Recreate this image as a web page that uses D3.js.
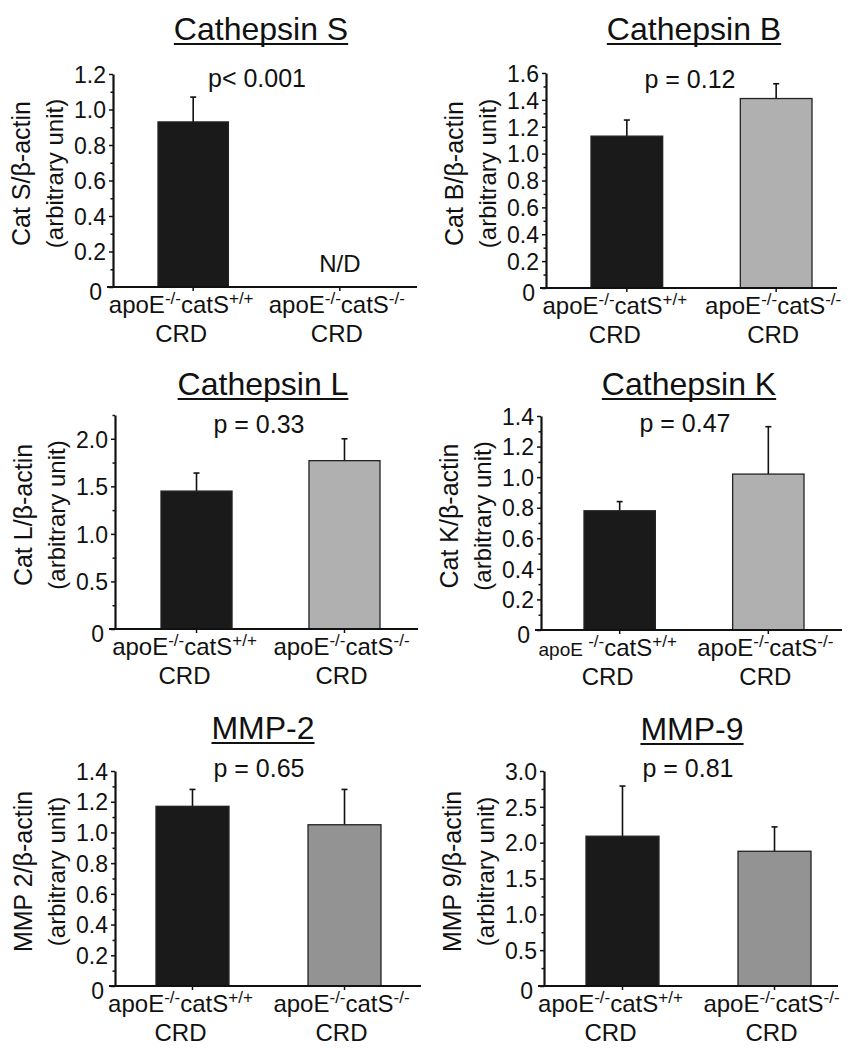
<!DOCTYPE html>
<html>
<head>
<meta charset="utf-8">
<script src="https://cdn.jsdelivr.net/npm/d3@7"></script>
<style>
  html, body { margin: 0; padding: 0; background: #fff; }
  svg { display: block; font-family: Arial, "Liberation Sans", Helvetica, sans-serif; }
</style>
</head>
<body>
<svg id="chart" width="851" height="1050"></svg>
<script>
// ---------------- data ----------------
const groups = ["apoE-/-catS+/+", "apoE-/-catS-/-"];
const groupSubLabel = "CRD";
const titles = ["Cathepsin S", "Cathepsin B", "Cathepsin L", "Cathepsin K", "MMP-2", "MMP-9"];
const yLabels = ["Cat S/β-actin", "Cat B/β-actin", "Cat L/β-actin", "Cat K/β-actin", "MMP 2/β-actin", "MMP 9/β-actin"];
const yLabelSub = "(arbitrary unit)";
const pTexts = ["p< 0.001", "p = 0.12", "p = 0.33", "p = 0.47", "p = 0.65", "p = 0.81"];
const wildTypeMeans = [0.93, 1.13, 1.45, 0.78, 1.17, 2.09];
const wildTypeSEM   = [0.14, 0.12, 0.19, 0.06, 0.11, 0.70];
const knockoutMeans = [null, 1.41, 1.77, 1.02, 1.05, 1.88];
const knockoutSEM   = [null, 0.11, 0.23, 0.31, 0.23, 0.34];
const notDetectedText = "N/D";
const yMax       = [1.2, 1.6, 2.25, 1.4, 1.4, 3.0];
const yMajorStep = [0.2, 0.2, 0.5, 0.2, 0.2, 0.5];
const yMinorStep = [0.1, 0.1, 0.25, 0.1, 0.1, 0.25];

// ---------------- layout (positions / styles) ----------------
const layout = [
  {ax:113, x1:417, yt:74,  yb:287, band:[158,375], titleY:40,  pY:87,  knockoutFill:"#b0b0b0"},
  {ax:546, x1:837, yt:73,  yb:288, band:[591,812], titleY:40,  pY:88,  knockoutFill:"#b0b0b0"},
  {ax:115, x1:418, yt:415, yb:629, band:[161,380], titleY:395, pY:433, knockoutFill:"#b0b0b0"},
  {ax:541, x1:842, yt:416, yb:630, band:[584,804], titleY:395, pY:432, knockoutFill:"#b0b0b0", smallApoE:true},
  {ax:115, x1:421, yt:771, yb:986, band:[156,381], titleY:739, pY:777, knockoutFill:"#939393"},
  {ax:544, x1:838, yt:771, yb:986, band:[586,811], titleY:740, pY:777, knockoutFill:"#939393"}
];
const wildFill = "#1a1a1a";
const ink = "#111";

const svg = d3.select("#chart");
svg.append("rect").attr("width", 851).attr("height", 1050).attr("fill", "#fff");

function fmtTick(v) {
  if (Math.abs(v) < 1e-9) return "0";
  return d3.format(".1f")(v);
}

titles.forEach((title, i) => {
  const L = layout[i];
  const g = svg.append("g");

  const y = d3.scaleLinear().domain([0, yMax[i]]).range([L.yb, L.yt]);
  const x = d3.scaleBand().domain(groups).range(L.band).paddingInner(0.52).paddingOuter(0);

  // title with underline
  const tcx = L.ax + 148;
  const t = g.append("text").attr("x", tcx).attr("y", L.titleY)
    .attr("text-anchor", "middle").attr("font-size", 32).attr("fill", ink).text(title);
  const tw = t.node().getComputedTextLength();
  g.append("line").attr("x1", tcx - tw / 2).attr("x2", tcx + tw / 2)
    .attr("y1", L.titleY + 4).attr("y2", L.titleY + 4)
    .attr("stroke", ink).attr("stroke-width", 2);

  // p value
  g.append("text").attr("x", L.ax + 144).attr("y", L.pY)
    .attr("text-anchor", "middle").attr("font-size", 25).attr("fill", ink).text(pTexts[i]);

  // y axis minor ticks
  const eps = 1e-9;
  const majors = d3.range(0, yMax[i] + eps, yMajorStep[i]);
  const minors = d3.range(0, yMax[i] + eps, yMinorStep[i])
    .filter(v => !majors.some(m => Math.abs(m - v) < 1e-6));
  const minorAxis = g.append("g").attr("transform", `translate(${L.ax},0)`)
    .call(d3.axisLeft(y).tickValues(minors).tickSize(2.5).tickFormat(""));
  minorAxis.select(".domain").remove();
  minorAxis.selectAll("line").attr("stroke", ink).attr("stroke-width", 1.5);

  // y axis major
  const yAxis = g.append("g").attr("transform", `translate(${L.ax},0)`)
    .call(d3.axisLeft(y).tickValues(majors).tickSize(4).tickSizeOuter(0)
      .tickPadding(3).tickFormat(fmtTick));
  yAxis.attr("font-size", null).attr("font-family", null);
  yAxis.select(".domain").attr("stroke", ink).attr("stroke-width", 2.2);
  yAxis.selectAll(".tick line").attr("stroke", ink).attr("stroke-width", 1.5);
  yAxis.selectAll(".tick text").attr("font-size", 23).attr("fill", ink)
    .attr("dy", "0.36em");
  yAxis.selectAll(".tick").filter(d => d === 0).select("text")
    .attr("dx", -4).attr("dy", "0.55em");

  // y axis label
  const ymid = (L.yt + L.yb) / 2 - 7;
  g.append("text").attr("transform", `translate(${L.ax - 92},${ymid}) rotate(-90)`)
    .attr("text-anchor", "middle").attr("dy", "0.35em").attr("font-size", 25).attr("fill", ink)
    .text(yLabels[i]);
  g.append("text").attr("transform", `translate(${L.ax - 58},${ymid}) rotate(-90)`)
    .attr("text-anchor", "middle").attr("dy", "0.35em").attr("font-size", 24).attr("fill", ink)
    .text(yLabelSub);

  // bars
  const rows = groups.map((grp, k) => ({
    grp,
    mean: k === 0 ? wildTypeMeans[i] : knockoutMeans[i],
    sem:  k === 0 ? wildTypeSEM[i] : knockoutSEM[i],
    fill: k === 0 ? wildFill : L.knockoutFill
  }));
  const present = rows.filter(r => r.mean != null);

  // error bars (upper only)
  present.forEach(r => {
    const cx = x(r.grp) + x.bandwidth() / 2;
    g.append("line").attr("x1", cx).attr("x2", cx)
      .attr("y1", y(r.mean)).attr("y2", y(r.mean + r.sem))
      .attr("stroke", ink).attr("stroke-width", 1.6);
    g.append("line").attr("x1", cx - 3).attr("x2", cx + 3)
      .attr("y1", y(r.mean + r.sem)).attr("y2", y(r.mean + r.sem))
      .attr("stroke", ink).attr("stroke-width", 1.6);
  });

  g.selectAll("rect.bar").data(present).join("rect").attr("class", "bar")
    .attr("x", r => x(r.grp)).attr("width", x.bandwidth())
    .attr("y", r => y(r.mean)).attr("height", r => L.yb - y(r.mean))
    .attr("fill", r => r.fill).attr("stroke", "#222").attr("stroke-width", 1.3);

  // N/D text
  rows.filter(r => r.mean == null).forEach(r => {
    g.append("text").attr("x", x(r.grp) + x.bandwidth() / 2).attr("y", L.yb - 15)
      .attr("text-anchor", "middle").attr("font-size", 24).attr("fill", ink).text(notDetectedText);
  });

  // x axis line and ticks
  g.append("line").attr("x1", L.ax - 6).attr("x2", L.x1).attr("y1", L.yb).attr("y2", L.yb)
    .attr("stroke", ink).attr("stroke-width", 2.2);
  const xAxis = g.append("g").attr("transform", `translate(0,${L.yb})`)
    .call(d3.axisBottom(x).tickSize(4).tickSizeOuter(0).tickFormat(""));
  xAxis.select(".domain").remove();
  xAxis.selectAll(".tick line").attr("stroke", ink).attr("stroke-width", 1.5);

  // category labels
  const offsets = [-12, -3];
  groups.forEach((grp, k) => {
    const m = grp.match(/^(apoE)(-\/-)(catS)(.*)$/);
    const cx = x(grp) + x.bandwidth() / 2 + offsets[k];
    const t1 = g.append("text").attr("x", cx).attr("y", L.yb + 26)
      .attr("text-anchor", "middle").attr("font-size", 24).attr("fill", ink);
    if (k === 0 && L.smallApoE) {
      t1.append("tspan").attr("font-size", 19).text(m[1] + " ");
    } else {
      t1.append("tspan").text(m[1]);
    }
    t1.append("tspan").attr("font-size", 17).attr("dy", -9).text(m[2]);
    t1.append("tspan").attr("dy", 9).text(m[3]);
    t1.append("tspan").attr("font-size", 17).attr("dy", -9).text(m[4]);
    g.append("text").attr("x", cx)
      .attr("y", L.yb + 55).attr("text-anchor", "middle").attr("font-size", 24).attr("fill", ink)
      .text(groupSubLabel);
  });
});
</script>
</body>
</html>
